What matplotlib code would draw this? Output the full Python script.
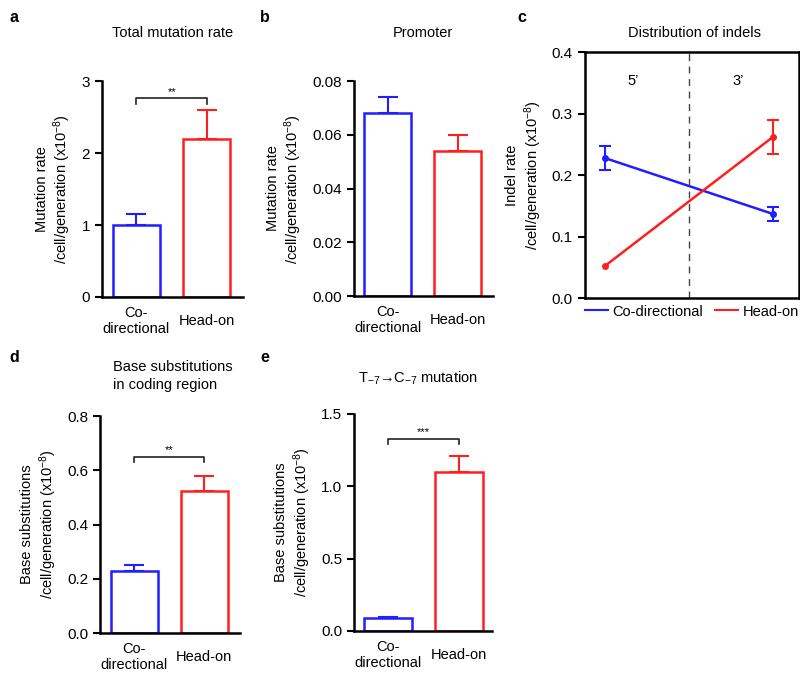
import matplotlib
matplotlib.use("Agg")
import matplotlib.pyplot as plt

plt.rcParams['font.family'] = ['Liberation Sans', 'DejaVu Sans']
plt.rcParams['font.size'] = 10
plt.rcParams['mathtext.fontset'] = 'custom'
plt.rcParams['mathtext.rm'] = 'Liberation Sans'
plt.rcParams['mathtext.it'] = 'Liberation Sans'

BLUE = '#1f1fff'
RED = '#ff1f1f'

groups = ["Co-\ndirectional", "Head-on"]

# panel a
total_rate = [1.0, 2.2]
total_err = [0.15, 0.4]
# panel b
promoter_rate = [0.068, 0.054]
promoter_err = [0.006, 0.006]
# panel c
indel_pos = [1, 3]
indel_co = [0.228, 0.137]
indel_co_err = [0.020, 0.012]
indel_ho = [0.052, 0.262]
indel_ho_err = [0.0, 0.028]
# panel d
coding_rate = [0.23, 0.525]
coding_err = [0.02, 0.055]
# panel e
t7c7_rate = [0.09, 1.1]
t7c7_err = [0.006, 0.11]

ylab_rate = "Mutation rate\n/cell/generation (x10$^{-8}$)"
ylab_base = "Base substitutions\n/cell/generation (x10$^{-8}$)"


def bar_panel(rect, vals, errs, ylim, yticks, fmt, ylabel, xlim, sig=None):
    ax = fig.add_axes(rect)
    x = [0, 1]
    cols = [BLUE, RED]
    ax.bar(x, vals, width=0.67, facecolor='white', edgecolor=cols, linewidth=1.8, zorder=2)
    for xi, v, e, c in zip(x, vals, errs, cols):
        ax.errorbar([xi], [v], yerr=[[0], [e]], color=c, capsize=7, elinewidth=1.5,
                    capthick=1.5, fmt='none', zorder=1)
    ax.set_ylim(*ylim)
    ax.set_xlim(*xlim)
    ax.set_yticks(yticks)
    ax.set_yticklabels([fmt.format(t) for t in yticks])
    ax.set_xticks(x)
    ax.set_xticklabels(groups)
    for lab in ax.get_xticklabels():
        lab.set_va('center')
    ax.tick_params(axis='x', length=0, pad=17, labelsize=10.5)
    ax.tick_params(axis='y', length=5, width=1.5, labelsize=11)
    for s in ['top', 'right']:
        ax.spines[s].set_visible(False)
    for s in ['left', 'bottom']:
        ax.spines[s].set_linewidth(1.8)
    ax.set_ylabel(ylabel, fontsize=10.5, labelpad=6)
    if sig is not None:
        yb, stars = sig
        h = (ylim[1] - ylim[0]) * 0.025
        ax.plot([0, 0, 1, 1], [yb - h, yb, yb, yb - h], color='#222222', lw=1.2, clip_on=False)
        ax.text(0.5, yb + h * 0.3, stars, ha='center', va='bottom', fontsize=8)
    return ax


fig = plt.figure(figsize=(8, 6.79), dpi=100)

# a
bar_panel([0.1275, 0.5626, 0.176, 0.318], total_rate, total_err, (0, 3), [0, 1, 2, 3], "{:.0f}",
          ylab_rate, (-0.49, 1.51), sig=(2.76, "**"))
fig.text(173 / 800, 1 - 33 / 679, "Total mutation rate", ha='center', va='center', fontsize=10.5)

# b
bar_panel([0.4425, 0.564, 0.174, 0.3166], promoter_rate, promoter_err, (0, 0.08),
          [0, 0.02, 0.04, 0.06, 0.08], "{:.2f}", ylab_rate, (-0.48, 1.507))
fig.text(423 / 800, 1 - 33 / 679, "Promoter", ha='center', va='center', fontsize=10.5)

# c
axc = fig.add_axes([0.731, 0.561, 0.2675, 0.362])
axc.plot(indel_pos, indel_co, color=BLUE, lw=1.8, marker='o', ms=4)
axc.errorbar(indel_pos, indel_co, yerr=indel_co_err, color=BLUE, fmt='none',
             capsize=4, elinewidth=1.5, capthick=1.5)
axc.plot(indel_pos, indel_ho, color=RED, lw=1.8, marker='o', ms=4)
axc.errorbar(indel_pos[1:], indel_ho[1:], yerr=indel_ho_err[1:], color=RED, fmt='none',
             capsize=4, elinewidth=1.5, capthick=1.5)
axc.axvline(2, color='#444444', lw=1, ls=(0, (5, 4)))
axc.set_xlim(0.763, 3.31)
axc.set_ylim(0, 0.4)
axc.set_yticks([0, 0.1, 0.2, 0.3, 0.4])
axc.set_yticklabels(["0.0", "0.1", "0.2", "0.3", "0.4"])
axc.set_xticks([])
axc.tick_params(axis='y', length=5, width=1.5, labelsize=11)
for s in axc.spines.values():
    s.set_linewidth(1.8)
axc.text(1.334, 0.354, "5\u2019", ha='center', va='center', fontsize=10.5)
axc.text(2.584, 0.354, "3\u2019", ha='center', va='center', fontsize=10.5)
axc.set_ylabel("Indel rate\n/cell/generation (x10$^{-8}$)", fontsize=10.5, labelpad=6)
h1 = plt.Line2D([], [], color=BLUE, lw=1.5)
h2 = plt.Line2D([], [], color=RED, lw=1.5)
axc.legend([h1, h2], ["Co-directional", "Head-on"], loc='center', bbox_to_anchor=(0.5, -0.055),
           ncol=2, frameon=False, handlelength=1.6, handletextpad=0.3, columnspacing=0.8,
           borderpad=0, fontsize=10.5)
fig.text(695 / 800, 1 - 33 / 679, "Distribution of indels", ha='center', va='center', fontsize=10.5)

# d
bar_panel([0.125, 0.0677, 0.175, 0.3196], coding_rate, coding_err, (0, 0.8),
          [0, 0.2, 0.4, 0.6, 0.8], "{:.1f}", ylab_base, (-0.49, 1.51), sig=(0.649, "**"))
fig.text(113 / 800, 1 - 376 / 679, "Base substitutions\nin coding region", ha='left', va='center',
         fontsize=10.5, linespacing=1.3)

# e
bar_panel([0.4425, 0.0707, 0.1725, 0.32], t7c7_rate, t7c7_err, (0, 1.5),
          [0, 0.5, 1.0, 1.5], "{:.1f}", ylab_base, (-0.48, 1.46), sig=(1.327, "***"))
fig.text(418 / 800, 1 - 378 / 679, "T$_{\\mathregular{-7}}$\u2192C$_{\\mathregular{-7}}$ mutation",
         ha='center', va='center', fontsize=10.5)

# panel letters
for lab, (px, py) in zip("abcde", [(14, 17), (265, 17), (522, 17), (14, 357), (265, 357)]):
    fig.text(px / 800, 1 - py / 679, lab, ha='center', va='center', fontsize=11.5, fontweight='bold')

fig.savefig("out.png", dpi=100)
